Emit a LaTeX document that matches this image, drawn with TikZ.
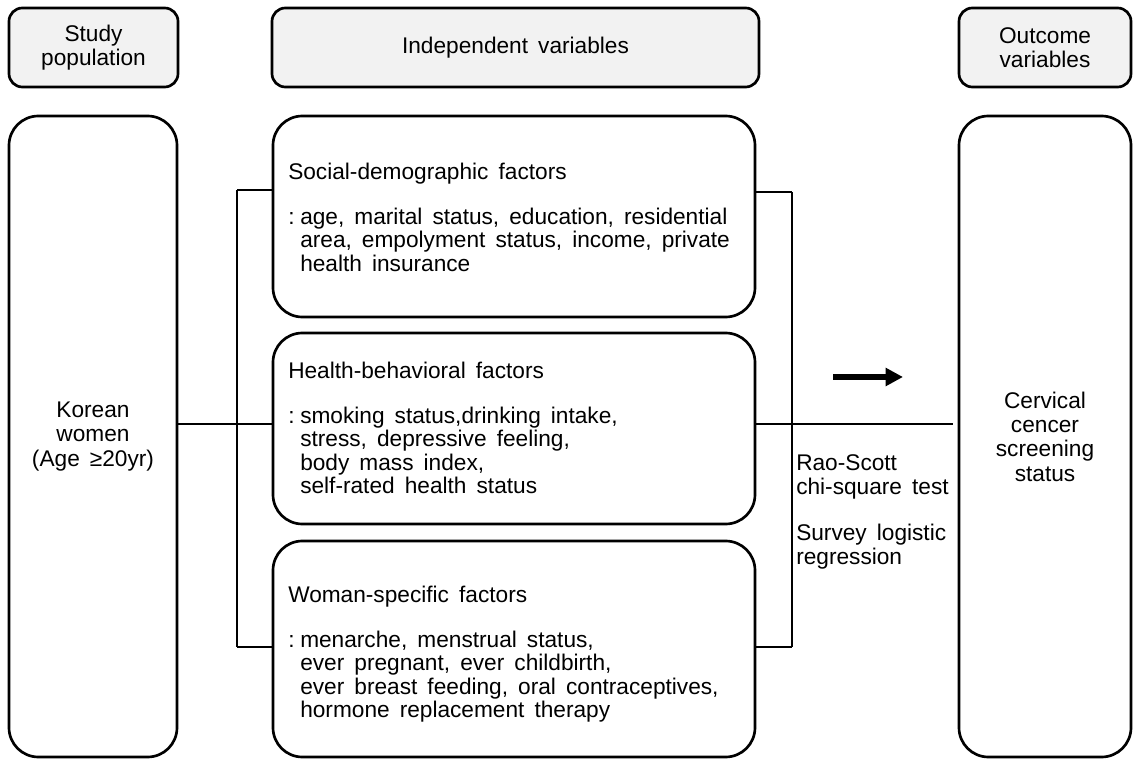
\documentclass[tikz,border=0pt]{standalone}
\usepackage{fontspec}
\setmainfont{Liberation Sans}[WordSpace=1.6]
\usetikzlibrary{arrows.meta}
\definecolor{hdrgray}{HTML}{F2F2F2}
\newcommand\colonlead{\makebox[9pt][l]{:}}
\newcommand\indentlead{\hspace*{9pt}}
\begin{document}
\begin{tikzpicture}[x=0.75pt,y=-0.75pt,
  txtfont/.style={font=\fontsize{17}{17.5}\selectfont},
  ctrfont/.style={font=\fontsize{17}{18.3}\selectfont},
  hdr/.style={draw, line width=2pt, rounded corners=10pt, fill=hdrgray, align=center, inner sep=0pt, ctrfont},
  bigbox/.style={draw, line width=2pt, rounded corners=22pt, align=center, inner sep=0pt, ctrfont},
  facbox/.style={draw, line width=2pt, rounded corners=22pt, inner sep=0pt, minimum width=361.5pt},
  factxt/.style={anchor=north west, align=left, inner sep=0pt, txtfont},
  conn/.style={line width=2pt},
  bracket/.style={line width=1.5pt},
  bigarrow/.style={line width=4.6pt, -{Triangle[length=13pt,width=13pt]}}
]
\useasboundingbox (0,0) rectangle (1133,766);

% headers
\node[hdr, minimum width=126.75pt, minimum height=59.25pt] (hsp) at (93.5,47.5) {Study\\population};
\node[hdr, minimum width=365.25pt, minimum height=59.25pt] (hiv) at (515.5,47.5) {Independent variables};
\node[hdr, minimum width=129pt, minimum height=59.25pt] (hov) at (1045,47.5) {Outcome\\variables};

% big boxes
\node[bigbox, minimum width=126pt, minimum height=480.75pt] (sp) at (93,436.5) {Korean\\women\\(Age ≥20yr)};
\node[bigbox, minimum width=129pt, minimum height=480.75pt] (ob) at (1045,436.5) {Cervical\\cencer\\screening\\status};

% factor boxes
\node[facbox, minimum height=150.75pt] (sd) at (514,216.5) {};
\node[facbox, minimum height=143.25pt] (hb) at (514,428.5) {};
\node[facbox, minimum height=162pt] (ws) at (514,649) {};

\node[factxt] (sdt) at (288,163) {Social-demographic factors\\[16pt]
\colonlead age, marital status, education, residential\\
\indentlead area, empolyment status, income, private\\
\indentlead health insurance};
\node[factxt] (hbt) at (288,362) {Health-behavioral factors\\[16pt]
\colonlead smoking status,drinking intake,\\
\indentlead stress, depressive feeling,\\
\indentlead body mass index,\\
\indentlead self-rated health status};
\node[factxt] (wst) at (288,586) {Woman-specific factors\\[16pt]
\colonlead menarche, menstrual status,\\
\indentlead ever pregnant, ever childbirth,\\
\indentlead ever breast feeding, oral contraceptives,\\
\indentlead hormone replacement therapy};

% method text
\node[factxt, ctrfont] (mt) at (796,454) {Rao-Scott\\chi-square test\\[16pt]Survey logistic\\regression};

% connector coordinates
\coordinate (jl) at (237,424);
\coordinate (lb1) at (237,190);
\coordinate (lb2) at (237,647);
\coordinate (rb1) at (792,192);
\coordinate (rb2) at (792,647);
\coordinate (jr) at (953,424);
\coordinate (a1) at (833,377);
\coordinate (a2) at (903,377);

% left connectors
\draw[conn] (sp.east |- jl) -- (hb.west |- jl);
\draw[bracket] (lb1) -- (lb2);
\draw[conn] (lb1) -- (sd.west |- lb1);
\draw[conn] (lb2) -- (ws.west |- lb2);

% right connectors
\draw[conn] (hb.east |- jl) -- (jr);
\draw[bracket] (rb1) -- (rb2);
\draw[conn] (sd.east |- rb1) -- (rb1);
\draw[conn] (ws.east |- rb2) -- (rb2);

% arrow
\draw[bigarrow] (a1) -- (a2);
\end{tikzpicture}
\end{document}
